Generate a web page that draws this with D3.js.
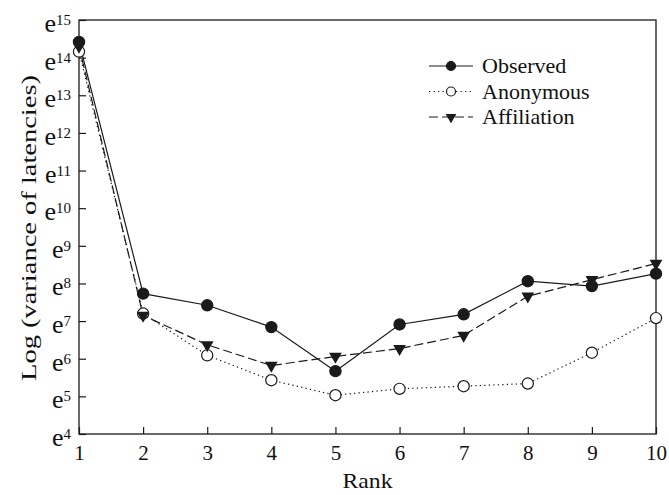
<!DOCTYPE html>
<html>
<head>
<meta charset="utf-8">
<script src="https://cdn.jsdelivr.net/npm/d3@7"></script>
<style>
  body { margin: 0; background: #fff; }
  text { font-family: "Liberation Serif", "DejaVu Serif", serif; fill: #111; }
</style>
</head>
<body>
<div id="chart"></div>
<script>
// data (values are exponents of e)
const ranks = [1, 2, 3, 4, 5, 6, 7, 8, 9, 10];
const observed = [14.42, 7.73, 7.42, 6.84, 5.67, 6.91, 7.18, 8.06, 7.93, 8.26];
const anonymous = [14.16, 7.2, 6.09, 5.43, 5.03, 5.2, 5.27, 5.34, 6.16, 7.08];
const affiliation = [14.3, 7.15, 6.37, 5.82, 6.06, 6.27, 6.62, 7.66, 8.1, 8.53];
const yTicks = [4, 5, 6, 7, 8, 9, 10, 11, 12, 13, 14, 15];
const seriesNames = ["Observed", "Anonymous", "Affiliation"];

const width = 669, height = 495;
const margin = {left: 79, right: 13, top: 20, bottom: 61};

const svg = d3.select("#chart").append("svg")
  .attr("width", width)
  .attr("height", height);

const x = d3.scaleLinear().domain([1, 10]).range([margin.left, width - margin.right]);
const y = d3.scaleLinear().domain([4, 15]).range([height - margin.bottom, margin.top]);

const ink = "#1a1a1a";

// frame
svg.append("rect")
  .attr("x", x(1)).attr("y", y(15))
  .attr("width", x(10) - x(1)).attr("height", y(4) - y(15))
  .attr("fill", "none").attr("stroke", ink).attr("stroke-width", 1.3);

// x axis, ticks pointing in
const xAxis = svg.append("g")
  .attr("transform", `translate(0,${y(4)})`)
  .call(d3.axisBottom(x).tickValues(ranks).tickFormat(d3.format("d")).tickSizeInner(-7).tickSizeOuter(0).tickPadding(11));
xAxis.select(".domain").remove();
xAxis.selectAll("line").attr("stroke", ink).attr("stroke-width", 1.2);
xAxis.selectAll("text").attr("font-size", "21px").attr("fill", ink)
  .style("font-family", "'Liberation Serif', serif");

// y axis, ticks pointing in, labels as e^n
const yAxis = svg.append("g")
  .attr("transform", `translate(${x(1)},0)`)
  .call(d3.axisLeft(y).tickValues(yTicks).tickFormat("").tickSizeInner(-7).tickSizeOuter(0));
yAxis.select(".domain").remove();
yAxis.selectAll("line").attr("stroke", ink).attr("stroke-width", 1.2);

const yLab = svg.append("g").selectAll("text")
  .data(yTicks)
  .enter().append("text")
  .attr("x", x(1) - 8)
  .attr("y", d => y(d) + 12)
  .attr("text-anchor", "end")
  .attr("font-size", "26px");
yLab.append("tspan").text("e");
yLab.append("tspan").attr("dy", -7).attr("font-size", "15px").text(d => d);

// axis titles
svg.append("text")
  .attr("x", (x(1) + x(10)) / 2)
  .attr("y", 488)
  .attr("text-anchor", "middle")
  .attr("font-size", "22px")
  .attr("textLength", 50)
  .attr("lengthAdjust", "spacingAndGlyphs")
  .text("Rank");

svg.append("text")
  .attr("transform", `translate(36,${(y(4) + y(15)) / 2 + 1}) rotate(-90)`)
  .attr("text-anchor", "middle")
  .attr("font-size", "21px")
  .attr("textLength", 306)
  .attr("lengthAdjust", "spacingAndGlyphs")
  .text("Log (variance of latencies)");

// series
const styles = {
  Observed: {values: observed, dash: null, marker: "filled"},
  Anonymous: {values: anonymous, dash: "1.3,3.2", marker: "open"},
  Affiliation: {values: affiliation, dash: "9,4", marker: "triangle"}
};

const line = d3.line().x(d => x(d[0])).y(d => y(d[1]));
const tri = d3.symbol().type(d3.symbolTriangle).size(70);

function drawMarker(g, kind, cx, cy) {
  if (kind === "triangle") {
    g.append("path").attr("d", tri)
      .attr("transform", `translate(${cx},${cy}) rotate(180)`)
      .attr("fill", ink);
  } else {
    g.append("circle").attr("cx", cx).attr("cy", cy).attr("r", 5.6)
      .attr("fill", kind === "filled" ? ink : "#fff")
      .attr("stroke", ink).attr("stroke-width", 1.2);
  }
}

// draw lines first (anonymous, affiliation, observed), then markers
["Anonymous", "Affiliation", "Observed"].forEach(name => {
  const s = styles[name];
  svg.append("path")
    .datum(ranks.map((r, i) => [r, s.values[i]]))
    .attr("d", line)
    .attr("fill", "none")
    .attr("stroke", ink)
    .attr("stroke-width", 1.2)
    .attr("stroke-dasharray", s.dash);
});
["Anonymous", "Affiliation", "Observed"].forEach(name => {
  const s = styles[name];
  const g = svg.append("g");
  ranks.forEach((r, i) => drawMarker(g, s.marker, x(r), y(s.values[i])));
});

// legend
const legend = svg.append("g").attr("transform", "translate(429,66)");
seriesNames.forEach((name, i) => {
  const s = styles[name];
  const g = legend.append("g").attr("transform", `translate(0,${i * 25.5})`);
  g.append("line")
    .attr("x1", 0).attr("x2", 44).attr("y1", 0).attr("y2", 0)
    .attr("stroke", ink).attr("stroke-width", 1.2)
    .attr("stroke-dasharray", s.dash);
  const m = g.append("g");
  if (s.marker === "triangle") {
    m.append("path").attr("d", d3.symbol().type(d3.symbolTriangle).size(50))
      .attr("transform", "translate(22,0) rotate(180)").attr("fill", ink);
  } else {
    m.append("circle").attr("cx", 22).attr("cy", 0).attr("r", 4.5)
      .attr("fill", s.marker === "filled" ? ink : "#fff")
      .attr("stroke", ink).attr("stroke-width", 1.2);
  }
  g.append("text")
    .attr("x", 53).attr("y", 7)
    .attr("font-size", "22px")
    .text(name);
});
</script>
</body>
</html>
